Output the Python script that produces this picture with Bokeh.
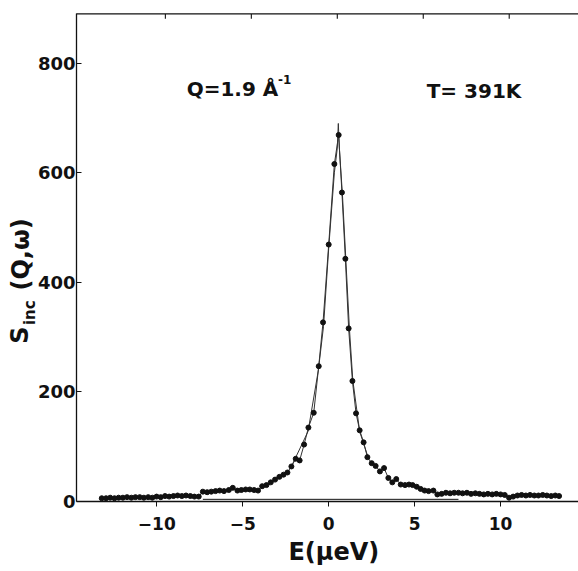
import math
from bokeh.plotting import figure
from bokeh.models import Range1d, FixedTicker, Label, ColumnDataSource
from bokeh.embed import file_html
from bokeh.resources import INLINE

# measured points S_inc(Q, w) vs energy transfer E (micro-eV)
energy = [-13.20, -12.95, -12.71, -12.46, -12.22, -11.97, -11.73, -11.48, -11.24, -10.99,
          -10.75, -10.50, -10.26, -10.01, -9.77, -9.52, -9.28, -9.03, -8.79, -8.54,
          -8.30, -8.05, -7.81, -7.56, -7.32, -7.07, -6.83, -6.58, -6.34, -6.09,
          -5.81, -5.58, -5.31, -5.08, -4.83, -4.59, -4.34, -4.11, -3.87, -3.62,
          -3.37, -3.12, -2.87, -2.63, -2.40, -2.17, -1.92, -1.69, -1.43, -1.18,
          -0.87, -0.58, -0.33, 0.00, 0.33, 0.58, 0.77, 0.97, 1.16, 1.38,
          1.59, 1.80, 2.03, 2.25, 2.50, 2.73, 2.98, 3.22, 3.47, 3.70,
          3.93, 4.19, 4.44, 4.67, 4.88, 5.12, 5.35, 5.58, 5.81, 6.09,
          6.32, 6.57, 6.82, 7.06, 7.30, 7.55, 7.79, 8.04, 8.28, 8.53,
          8.77, 9.02, 9.26, 9.51, 9.75, 10.00, 10.24, 10.49, 10.73, 10.98,
          11.22, 11.47, 11.71, 11.96, 12.20, 12.45, 12.69, 12.94, 13.18, 13.40]
s_inc = [6, 6, 7, 6, 7, 7, 8, 7, 8, 8,
         7, 8, 7, 9, 8, 10, 9, 10, 11, 10,
         11, 10, 9, 9, 18, 17, 18, 19, 20, 19,
         21, 25, 20, 21, 22, 22, 21, 20, 28, 30,
         35, 40, 45, 49, 53, 64, 78, 75, 104, 135,
         162, 247, 327, 469, 616, 669, 564, 443, 316, 220,
         161, 130, 108, 81, 70, 65, 55, 61, 43, 35,
         41, 31, 30, 31, 30, 27, 23, 20, 19, 20,
         13, 14, 16, 15, 16, 16, 15, 16, 14, 15,
         14, 13, 14, 13, 14, 13, 12, 7, 9, 11,
         12, 11, 12, 11, 11, 12, 11, 10, 11, 10]

# fitted line near the peak
fit_energy = [-2.2, -1.2, -0.6, -0.3, 0.0, 0.33, 0.50, 0.56, 0.62, 0.80, 1.00, 1.20, 1.40, 1.80, 2.30]
fit_s = [62, 128, 240, 320, 462, 600, 645, 690, 645, 560, 440, 318, 222, 128, 80]

# flat background line
bg_energy = [-7.32, 7.55]
bg_s = [4, 4]

x_ticks = [-10, -5, 0, 5, 10]
y_ticks = [0, 200, 400, 600, 800]

# box limits (data units)
E_LEFT, E_RIGHT, S_TOP = -14.67, 14.53, 890
SCAN_SKEW = 0.5  # top ticks sit slightly right in the scan

FONT = "DejaVu Sans"
INK = "#111111"

p = figure(width=578, height=571, output_backend="svg", toolbar_location=None,
           x_range=Range1d(-19.09, 14.53), y_range=Range1d(-127.7, 898),
           min_border_left=0, min_border_right=0, min_border_top=9, min_border_bottom=0,
           background_fill_color="white", border_fill_color="white")
p.outline_line_color = None
p.grid.visible = False

# bottom axis, drawn at S = 0
xa = p.xaxis[0]
xa.fixed_location = 0
xa.ticker = FixedTicker(ticks=x_ticks)
xa.bounds = (E_LEFT, E_RIGHT)
xa.major_tick_in = 0
xa.major_tick_out = 5
xa.minor_tick_line_color = None
xa.major_label_standoff = 10
xa.major_label_text_font = FONT
xa.major_label_text_font_style = "bold"
xa.major_label_text_font_size = "17px"
xa.major_label_text_color = INK
xa.axis_line_color = INK
xa.axis_line_width = 1.3
xa.major_tick_line_color = INK

# left axis, drawn at the box edge
ya = p.yaxis[0]
ya.fixed_location = E_LEFT
ya.bounds = (0, S_TOP)
ya.ticker = FixedTicker(ticks=y_ticks)
ya.major_tick_in = 5
ya.major_tick_out = 0
ya.minor_tick_line_color = None
ya.major_label_standoff = 1
ya.major_label_text_font = FONT
ya.major_label_text_font_style = "bold"
ya.major_label_text_font_size = "18px"
ya.major_label_text_color = INK
ya.axis_line_color = INK
ya.axis_line_width = 1.3
ya.major_tick_line_color = INK

# top border with inward ticks
p.segment(x0=[E_LEFT], y0=[S_TOP], x1=[E_RIGHT], y1=[S_TOP], line_color=INK, line_width=1.1)
top_x = [t + SCAN_SKEW for t in x_ticks]
p.segment(x0=top_x, y0=[S_TOP] * len(top_x), x1=top_x, y1=[S_TOP - 9] * len(top_x),
          line_color=INK, line_width=1.1)

# data
src = ColumnDataSource(dict(e=energy, s=s_inc))
p.line(bg_energy, bg_s, line_color=INK, line_width=1)
p.line("e", "s", source=src, line_color="#333333", line_width=1)
p.line(fit_energy, fit_s, line_color="#333333", line_width=1)
p.scatter("e", "s", source=src, marker="circle", size=5, fill_color=INK, line_color=INK)

# x axis title
p.add_layout(Label(x=0.3, y=-93, text="E(μeV)", text_font=FONT, text_font_style="bold",
                   text_font_size="24px", text_color=INK, text_align="center",
                   text_baseline="alphabetic"))

# y axis label S_inc(Q,w), rotated
p.add_layout(Label(x=-17.97, y=288, text="S", angle=math.pi / 2, text_font=FONT,
                   text_font_style="bold", text_font_size="24px", text_color=INK,
                   text_align="left", text_baseline="alphabetic"))
p.add_layout(Label(x=-17.37, y=322, text="inc", angle=math.pi / 2, text_font=FONT,
                   text_font_style="bold", text_font_size="15px", text_color=INK,
                   text_align="left", text_baseline="alphabetic"))
p.add_layout(Label(x=-17.87, y=385, text="(Q,ω)", angle=math.pi / 2, text_font=FONT,
                   text_font_style="bold", text_font_size="24px", text_color=INK,
                   text_align="left", text_baseline="alphabetic"))

# annotations
p.add_layout(Label(x=-8.26, y=753, text="Q=1.9 Å", text_font=FONT, text_font_style="bold",
                   text_font_size="20px", text_color=INK, text_baseline="alphabetic"))
p.add_layout(Label(x=-2.95, y=771, text="-1", text_font=FONT, text_font_style="bold",
                   text_font_size="12px", text_color=INK, text_baseline="alphabetic"))
p.add_layout(Label(x=5.70, y=749, text="T= 391K", text_font=FONT, text_font_style="bold",
                   text_font_size="20px", text_color=INK, text_baseline="alphabetic"))

open("out.html", "w").write(file_html(p, INLINE))
